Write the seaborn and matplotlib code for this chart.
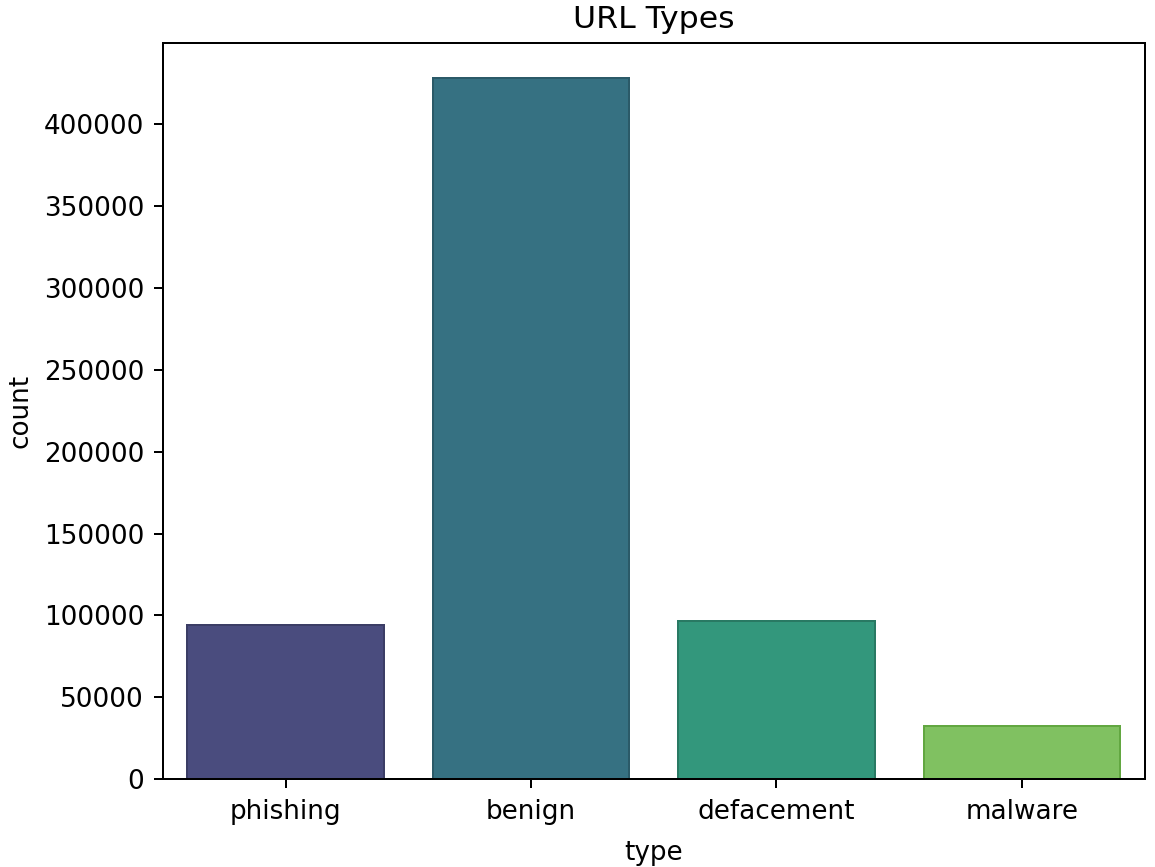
import matplotlib
matplotlib.use("Agg")
import matplotlib.pyplot as plt
import seaborn as sns
import pandas as pd
import colorsys
from matplotlib.colors import to_rgb

types = ["phishing", "benign", "defacement", "malware"]
counts = [94111, 428103, 96457, 32520]

df = pd.DataFrame({"type": types, "count": counts})

plt.rcParams["font.size"] = 10.5
plt.rcParams["xtick.major.pad"] = 4.5
plt.rcParams["ytick.major.pad"] = 4

fig = plt.figure(figsize=(1155 / 180, 867 / 180), dpi=180)
ax = fig.add_subplot(111)
fig.subplots_adjust(left=0.141, right=0.991, top=0.950, bottom=0.1015)

sns.barplot(data=df, x="type", y="count", hue="type", palette="viridis",
            legend=False, ax=ax)

# thin darker edge like the reference
for p in ax.patches:
    r, g, b = to_rgb(p.get_facecolor())
    h, l, s = colorsys.rgb_to_hls(r, g, b)
    p.set_edgecolor(colorsys.hls_to_rgb(h, l * 0.8, s))
    p.set_linewidth(0.8)

ax.set_title("URL Types")
ax.set_xlabel("type", labelpad=6)
ax.set_ylabel("count")

fig.savefig("out.png", dpi=180)
